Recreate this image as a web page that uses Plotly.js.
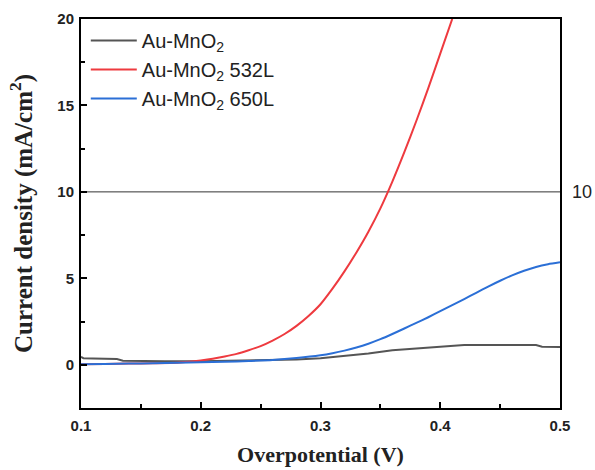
<!DOCTYPE html>
<html>
<head>
<meta charset="utf-8">
<script src="https://cdn.plot.ly/plotly-3.0.1.min.js"></script>
<style>
  html, body { margin: 0; padding: 0; background: #fff; }
  #chart { width: 595px; height: 470px; }
</style>
</head>
<body>
<div id="chart"></div>
<script>
// Polarization curves: current density vs. overpotential
const seriesNames = ["Au-MnO<sub>2</sub>", "Au-MnO<sub>2</sub> 532L", "Au-MnO<sub>2</sub> 650L"];

// Au-MnO2 (bare)
const vBare = [0.100, 0.102, 0.11, 0.12, 0.13, 0.135, 0.15, 0.17, 0.20, 0.22, 0.24, 0.26, 0.28,
               0.30, 0.32, 0.34, 0.36, 0.38, 0.40, 0.41, 0.42, 0.44, 0.46, 0.48, 0.485, 0.50];
const jBare = [0.46, 0.38, 0.36, 0.35, 0.33, 0.24, 0.22, 0.21, 0.20, 0.22, 0.24, 0.27, 0.31,
               0.38, 0.50, 0.65, 0.84, 0.95, 1.04, 1.10, 1.14, 1.14, 1.14, 1.14, 1.04, 1.03];

// Au-MnO2 532L
const v532 = [0.10, 0.12, 0.14, 0.16, 0.18, 0.19, 0.20, 0.21, 0.22, 0.23, 0.24, 0.25, 0.26, 0.27,
              0.28, 0.29, 0.30, 0.31, 0.32, 0.33, 0.34, 0.35, 0.36, 0.37, 0.38, 0.39, 0.40, 0.41];
const j532 = [0.03, 0.05, 0.07, 0.09, 0.12, 0.17, 0.25, 0.35, 0.48, 0.63, 0.84, 1.08, 1.40, 1.78,
              2.25, 2.82, 3.50, 4.40, 5.40, 6.50, 7.70, 9.05, 10.60, 12.30, 14.10, 16.00, 18.00, 20.00];

// Au-MnO2 650L
const v650 = [0.10, 0.12, 0.14, 0.16, 0.18, 0.20, 0.22, 0.24, 0.26, 0.28, 0.30, 0.31, 0.32, 0.33,
              0.34, 0.35, 0.36, 0.37, 0.38, 0.39, 0.40, 0.41, 0.42, 0.43, 0.44, 0.45, 0.46, 0.47,
              0.48, 0.49, 0.50];
const j650 = [0.03, 0.05, 0.07, 0.09, 0.12, 0.14, 0.17, 0.22, 0.28, 0.39, 0.55, 0.67, 0.82, 1.00,
              1.22, 1.48, 1.78, 2.10, 2.42, 2.75, 3.10, 3.45, 3.80, 4.16, 4.52, 4.86, 5.17, 5.44,
              5.66, 5.82, 5.93];

const refLevel = 10;
const refLabel = "10";
const xTicks = [0.1, 0.2, 0.3, 0.4, 0.5];
const yTicks = [0, 5, 10, 15, 20];

const colors = ["#555555", "#ee3a3f", "#2b6fd6"];
const shapes = ["linear", "spline", "spline"];

const traces = [
  { x: vBare, y: jBare, name: seriesNames[0] },
  { x: v532, y: j532, name: seriesNames[1] },
  { x: v650, y: j650, name: seriesNames[2] }
].map((t, i) => Object.assign(t, {
  type: "scatter", mode: "lines",
  line: { color: colors[i], width: 2, shape: shapes[i], smoothing: 0.6 }
}));

const sansBold = { family: "Liberation Sans, Arial, sans-serif", size: 15, color: "#222", weight: "bold" };
const serifBold = { family: "Liberation Serif, Times New Roman, serif", size: 22, color: "#222", weight: "bold" };

const axisCommon = {
  showline: true, linecolor: "#000", linewidth: 2, mirror: true,
  ticks: "inside", ticklen: 6, tickwidth: 2, tickcolor: "#000",
  showgrid: false, zeroline: false,
  tickfont: sansBold,
  minor: { ticks: "inside", ticklen: 4, tickwidth: 2, tickcolor: "#000", showgrid: false }
};

const layout = {
  width: 595, height: 470,
  margin: { l: 81, r: 35, t: 19, b: 62 },
  paper_bgcolor: "#fff", plot_bgcolor: "#fff",
  showlegend: true,
  legend: {
    x: 0.01, y: 0.995, xanchor: "left", yanchor: "top",
    bgcolor: "rgba(0,0,0,0)", itemwidth: 46,
    font: { family: "Liberation Sans, Arial, sans-serif", size: 20, color: "#222" },
    tracegroupgap: 0
  },
  xaxis: Object.assign({}, axisCommon, {
    range: [0.1, 0.5], tickvals: xTicks, ticktext: xTicks.map(v => v.toFixed(1)),
    ticklabelstandoff: 3,
    minor: Object.assign({}, axisCommon.minor, { dtick: 0.05, tick0: 0.1 }),
    title: { text: "Overpotential (V)", standoff: 14, font: serifBold }
  }),
  yaxis: Object.assign({}, axisCommon, {
    range: [-2.5, 20], tickvals: yTicks, ticktext: yTicks.map(String),
    ticklabelstandoff: 2,
    minor: Object.assign({}, axisCommon.minor, { dtick: 2.5, tick0: 0 }),
    title: { text: "Current density (mA/cm<sup>2</sup>)", standoff: 18,
      font: Object.assign({}, serifBold, { size: 25 }) }
  }),
  shapes: [{
    type: "line", xref: "paper", yref: "y", x0: 0, x1: 1, y0: refLevel, y1: refLevel,
    line: { color: "#333", width: 1 }, layer: "below"
  }],
  annotations: [{
    xref: "paper", yref: "y", x: 1, y: refLevel, xanchor: "left", xshift: 10,
    text: refLabel, showarrow: false,
    font: { family: "Liberation Sans, Arial, sans-serif", size: 18, color: "#222" }
  }]
};

Plotly.newPlot("chart", traces, layout, { staticPlot: true, displayModeBar: false });
</script>
</body>
</html>
